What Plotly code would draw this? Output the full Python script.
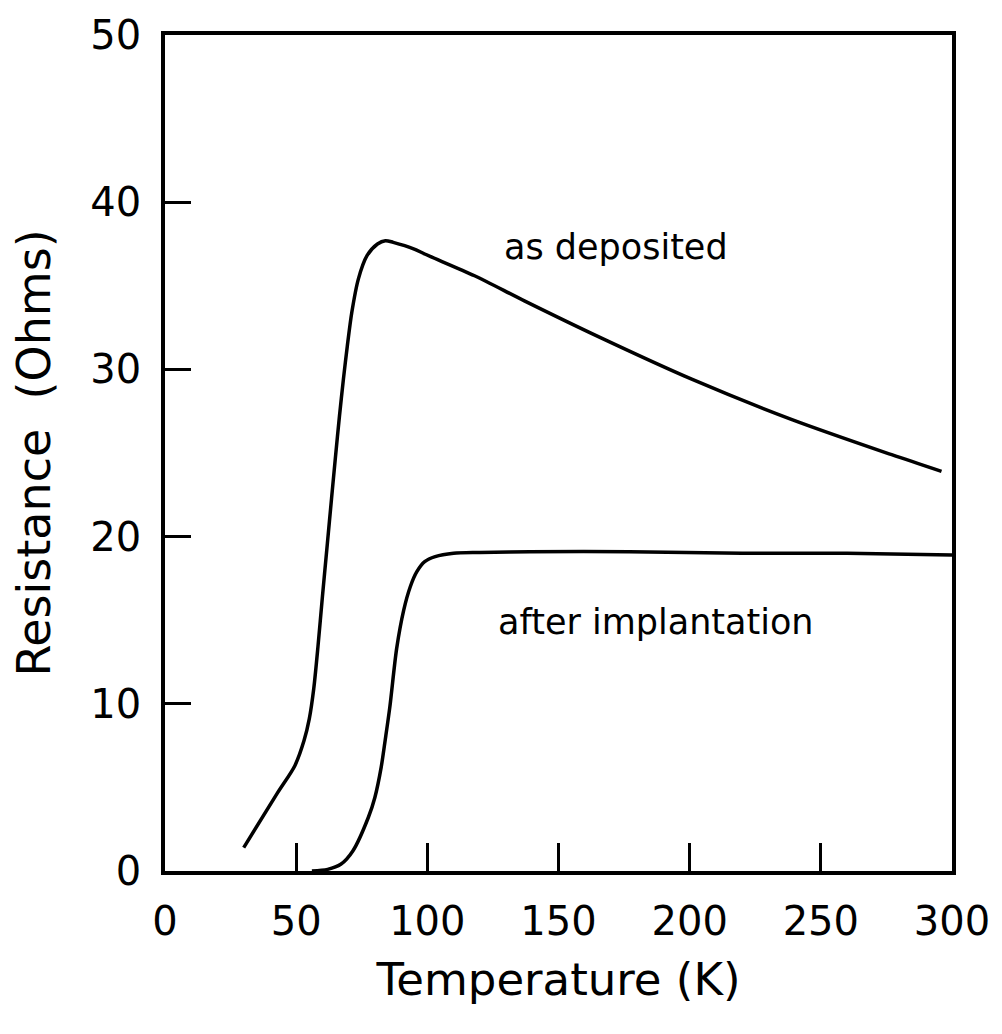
import plotly.graph_objects as go

# As deposited film: temperature (K) and resistance (Ohms)
dep_T = [30, 43, 49.5, 53, 55, 56.7, 58.3, 60, 61.9, 63.5, 65, 66.5, 68, 69.5, 71.2, 73.7, 77, 81, 84, 87, 95, 99, 118, 137, 166, 201, 239, 277, 296]
dep_R = [1.4, 4.7, 6.3, 7.8, 9.1, 10.9, 13.4, 16.4, 19.6, 22.3, 24.8, 27.2, 29.4, 31.4, 33.4, 35.4, 36.8, 37.5, 37.7, 37.6, 37.2, 36.9, 35.6, 34.1, 31.9, 29.4, 27.0, 24.9, 23.9]

# After implantation
imp_T = [56, 62, 67, 71.6, 77.5, 80, 82.4, 84, 85.7, 88.3, 91, 93.5, 96, 99, 103, 110, 120, 139, 177, 220, 260, 300]
imp_R = [0.0, 0.1, 0.4, 1.2, 3.2, 4.4, 6.2, 7.9, 9.8, 13.3, 15.6, 17.0, 17.9, 18.5, 18.8, 19.0, 19.05, 19.1, 19.1, 19.0, 19.0, 18.9]

x_ticks = [0, 50, 100, 150, 200, 250, 300]
y_ticks = [0, 10, 20, 30, 40, 50]

label_dep = "as deposited"
label_imp = "after implantation"

FONT = "DejaVu Sans"

fig = go.Figure()
fig.add_trace(go.Scatter(x=dep_T, y=dep_R, mode="lines", line=dict(color="black", width=3.5, shape="spline", smoothing=0.8), showlegend=False))
fig.add_trace(go.Scatter(x=imp_T, y=imp_R, mode="lines", line=dict(color="black", width=3.5, shape="spline", smoothing=0.8), showlegend=False))

fig.add_annotation(x=172, y=37.3, text=label_dep, showarrow=False, font=dict(family=FONT, size=35, color="black"))
fig.add_annotation(x=187, y=14.9, text=label_imp, showarrow=False, font=dict(family=FONT, size=35, color="black"))

fig.update_layout(
    width=1002, height=1034,
    margin=dict(l=165, r=40, t=32, b=163),
    paper_bgcolor="white", plot_bgcolor="white",
    font=dict(family=FONT, color="black"),
)
fig.update_xaxes(
    range=[0, 300], tickvals=x_ticks, ticktext=[str(v) for v in x_ticks],
    ticks="inside", ticklen=28, tickwidth=3, tickcolor="black",
    showline=True, linewidth=3.5, linecolor="black", mirror=True,
    showgrid=False, zeroline=False,
    tickfont=dict(family=FONT, size=40, color="black"),
    ticklabelstandoff=12,
    title=dict(text="Temperature (K)", font=dict(family=FONT, size=45, color="black"), standoff=22),
)
fig.update_yaxes(
    range=[0, 50], tickvals=y_ticks, ticktext=[str(v) for v in y_ticks],
    ticks="inside", ticklen=26, tickwidth=3, tickcolor="black",
    showline=True, linewidth=3.5, linecolor="black", mirror=True,
    showgrid=False, zeroline=False,
    tickfont=dict(family=FONT, size=40, color="black"),
    ticklabelstandoff=12,
    title=dict(text="Resistance  (Ohms)", font=dict(family=FONT, size=46, color="black"), standoff=26),
)

fig.write_html("out.html")
